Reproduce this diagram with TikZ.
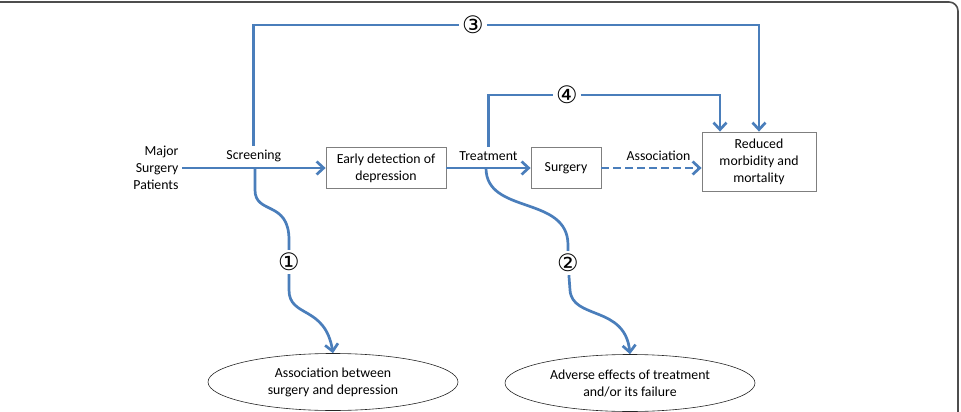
\documentclass[tikz,border=0pt]{standalone}
\usepackage{fontspec}
\setmainfont{Carlito}
\newfontfamily\circfont{DejaVu Sans}
\usetikzlibrary{arrows.meta,shapes.geometric}

\definecolor{flowblue}{HTML}{4A7EBB}
\definecolor{boxgray}{HTML}{7F7F7F}
\definecolor{framegray}{HTML}{4D4D4D}

\begin{document}
\begin{tikzpicture}[x=1pt,y=-1pt,
  font=\fontsize{13.8}{17}\selectfont,
  box/.style = {rectangle,draw=boxgray,line width=.8pt,align=center,inner sep=2pt},
  oval/.style = {ellipse,draw=black!85,line width=.6pt,align=center,minimum width=250pt,minimum height=57pt,inner sep=0pt},
  num/.style = {font=\circfont\fontsize{24}{24}\selectfont,inner sep=3pt},
  flow/.style = {draw=flowblue,line width=2.7pt,-{Straight Barb[length=7pt,width=13pt,line width=2.7pt]}},
  line/.style = {draw=flowblue,line width=2.7pt},]

\clip (0,0) rectangle (961,412);
\draw[framegray,line width=1.6pt,rounded corners=9pt] (-20,2) -- (958,2) -- (958,440);

\node[align=right,anchor=east] (pat) at (182,168) {Major\\Surgery\\Patients};
\node[box,minimum width=120pt,minimum height=41pt] (early) at (386,168) {Early detection of\\depression};
\node[box,minimum width=70pt,minimum height=41pt] (surg) at (566,168) {Surgery};
\node[box,minimum width=114pt,minimum height=59pt] (red) at (759,161.5) {Reduced\\morbidity and\\mortality};

\node[oval] (adv1) at (333,382) {Association between\\surgery and depression};
\node[oval] (adv2) at (630,383) {Adverse effects of treatment\\and/or its failure};

\node[num] (c1) at (289,262) {①};
\node[num] (c2) at (568,263) {②};
\node[num] (c3) at (473,25) {③};
\node[num] (c4) at (567,95) {④};

\draw[flow] (pat.east) -- node[above=1pt] (scr) {Screening} (early.west);
\draw[flow] (early.east) -- node[above=3pt] (treat) {Treatment} (surg.west);
\draw[flow,dash pattern=on 8pt off 4pt] (surg.east) -- node[above=3pt,pos=.57] (assoc) {Association} (red.west |- surg.east);

\draw[line] (scr.north) |- (c3);
\draw[flow] (c3) -| (red.north);
\draw[line] (treat.north) |- (c4);
\draw[flow] (c4) -| ([xshift=-39pt]red.north);

\coordinate (w1) at (255,168);
\coordinate (w2) at (486,168);
\draw[line] (w1) -- (255,190) .. controls (255,215) and (289,200) .. (289,240) -- (c1);
\draw[flow] (c1) -- (289,290) .. controls (289,318) and (325,305) .. (adv1.north);
\draw[line] (w2) .. controls (486,215) and (568,195) .. (568,245) -- (c2);
\draw[flow] (c2) -- (570,290) .. controls (572,320) and (625,305) .. (adv2.north);

\end{tikzpicture}
\end{document}
